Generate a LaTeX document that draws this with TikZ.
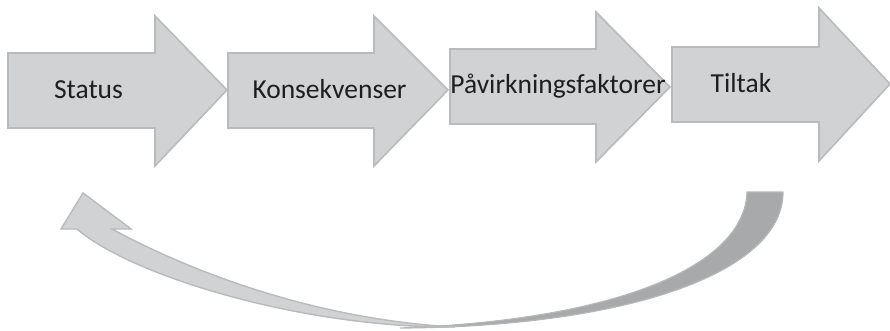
\documentclass[tikz,border=0pt]{standalone}
\usepackage{fontspec}
\setmainfont{Carlito}
\definecolor{boxfill}{HTML}{D1D2D4}
\definecolor{boxline}{HTML}{B9BABC}
\definecolor{backfill}{HTML}{A8A9AB}
\definecolor{backline}{HTML}{B6B7B9}
\definecolor{ink}{HTML}{1E1E1E}
\begin{document}
\begin{tikzpicture}[x=1pt,y=-1pt,
  blockarrow/.style={fill=boxfill,draw=boxline,line width=1.6pt,line join=miter},
  backribbon/.style={fill=backfill,draw=backline,line width=1.2pt},
  label/.style={anchor=base,text=ink,inner sep=0pt,font=\fontsize{27.5}{32}\selectfont}]
\useasboundingbox (0,0) rectangle (890,331);

% four block arrows in a row
\draw[blockarrow] (8,53) -- (155,53) -- (155,16) -- (227,90) -- (155,166) -- (155,128) -- (8,128) -- cycle;
\draw[blockarrow] (228,53) -- (374,53) -- (374,16) -- (448,90) -- (374,166) -- (374,128) -- (228,128) -- cycle;
\draw[blockarrow] (450,49) -- (596,49) -- (596,12) -- (670,87) -- (596,162) -- (596,124) -- (450,124) -- cycle;
\draw[blockarrow] (672,47) -- (819,47) -- (819,8) -- (890,84) -- (819,161) -- (819,122) -- (672,122) -- cycle;

\node[label] (status) at (88.5,99) {Status};
\node[label] (konsekvenser) at (329.5,99) {Konsekvenser};
\node[label] (faktorer) at (558,94) {Påvirkningsfaktorer};
\node[label] (tiltak) at (741,93) {Tiltak};

% curved return arrow: darker back side of the ribbon
\draw[backribbon] (747,192) -- (783,192)
  .. controls (783,275) and (620,327) .. (400,328)
  .. controls (620,320) and (745,265) .. (747,192) -- cycle;

% lighter front side with the arrow head
\draw[blockarrow,line width=1.4pt] (83,193) -- (131,229) -- (112,229)
  .. controls (160,255) and (290,318) .. (455,327)
  .. controls (300,328) and (130,275) .. (77,229)
  -- (61,229) -- cycle;
\end{tikzpicture}
\end{document}
